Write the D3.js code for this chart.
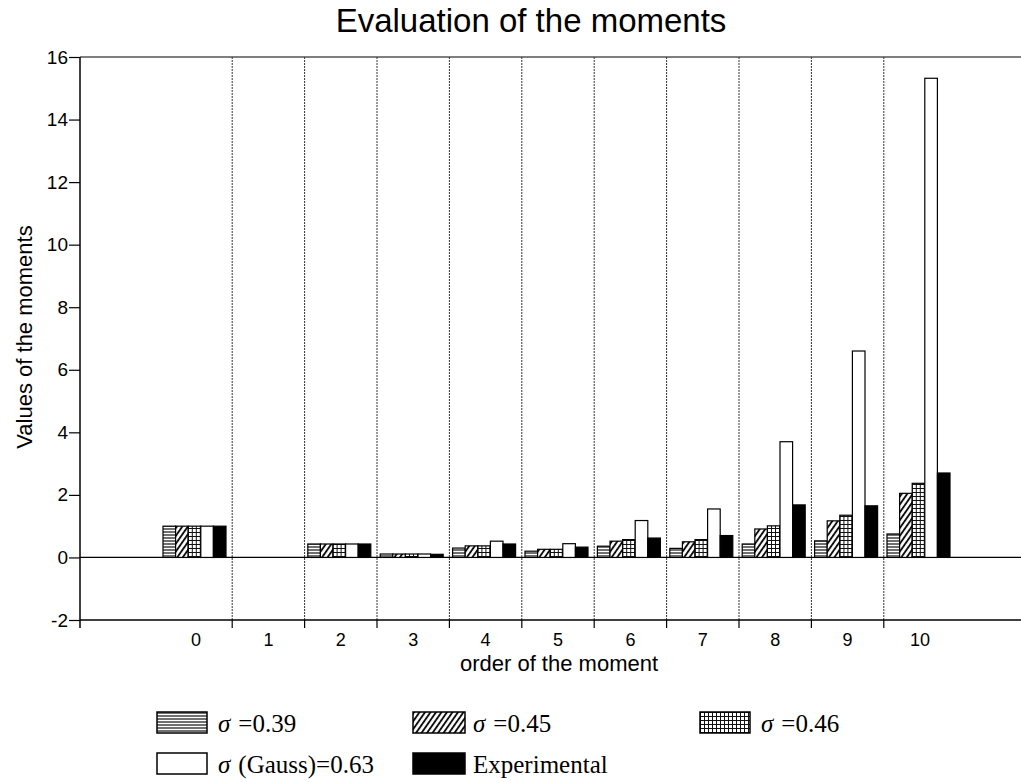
<!DOCTYPE html>
<html>
<head>
<meta charset="utf-8">
<script src="https://cdn.jsdelivr.net/npm/d3@7"></script>
<style>
  body { margin: 0; background: #fff; }
  svg text { fill: #000; }
  .sans { font-family: "Liberation Sans", Arial, sans-serif; }
  .serif { font-family: "Liberation Serif", "Times New Roman", serif; }
</style>
</head>
<body>
<svg id="chart" width="1021" height="782"></svg>
<script>
// order of the moment
const categories = ['0', '1', '2', '3', '4', '5', '6', '7', '8', '9', '10'];
const yTicks = [-2, 0, 2, 4, 6, 8, 10, 12, 14, 16];

// values of the moments, one array per series
const sigma039 = [1.0, 0, 0.43, 0.11, 0.30, 0.20, 0.36, 0.29, 0.43, 0.53, 0.75];
const sigma045 = [1.0, 0, 0.43, 0.11, 0.37, 0.26, 0.52, 0.50, 0.91, 1.17, 2.05];
const sigma046 = [1.0, 0, 0.43, 0.11, 0.37, 0.26, 0.57, 0.57, 1.01, 1.35, 2.37];
const gauss063 = [1.0, 0, 0.43, 0.11, 0.52, 0.44, 1.18, 1.55, 3.70, 6.60, 15.32];
const experimental = [1.0, 0, 0.43, 0.10, 0.43, 0.33, 0.62, 0.70, 1.68, 1.65, 2.70];

const seriesNames = ['s039', 's045', 's046', 'gauss', 'exp'];
const seriesLabels = ['σ =0.39', 'σ =0.45', 'σ =0.46', 'σ (Gauss)=0.63', 'Experimental'];
const seriesValues = [sigma039, sigma045, sigma046, gauss063, experimental];

const svg = d3.select('#chart');

// fill patterns
const defs = svg.append('defs');
const ph = defs.append('pattern').attr('id', 'p-s039')
  .attr('patternUnits', 'userSpaceOnUse').attr('width', 4).attr('height', 3);
ph.append('rect').attr('width', 4).attr('height', 3).attr('fill', '#fff');
ph.append('line').attr('x1', 0).attr('x2', 4).attr('y1', 1).attr('y2', 1)
  .attr('stroke', '#111').attr('stroke-width', 1.2);

const pd = defs.append('pattern').attr('id', 'p-s045')
  .attr('patternUnits', 'userSpaceOnUse').attr('width', 4.5).attr('height', 4.5)
  .attr('patternTransform', 'rotate(35)');
pd.append('rect').attr('width', 4.5).attr('height', 4.5).attr('fill', '#fff');
pd.append('line').attr('x1', 1).attr('x2', 1).attr('y1', 0).attr('y2', 4.5)
  .attr('stroke', '#000').attr('stroke-width', 1.8);

const pg = defs.append('pattern').attr('id', 'p-s046')
  .attr('patternUnits', 'userSpaceOnUse').attr('width', 4).attr('height', 4);
pg.append('rect').attr('width', 4).attr('height', 4).attr('fill', '#fff');
pg.append('path').attr('d', 'M0,0.5H4M0.5,0V4')
  .attr('stroke', '#111').attr('stroke-width', 1);

const fills = {
  s039: 'url(#p-s039)',
  s045: 'url(#p-s045)',
  s046: 'url(#p-s046)',
  gauss: '#fff',
  exp: '#000'
};

const plotLeft = 80, plotRight = 1021, plotTop = 57, plotBottom = 620;

const yScale = d3.scaleLinear()
  .domain([-2, 16])
  .range([plotBottom, plotTop]);

const xScale = d3.scaleBand()
  .domain(categories)
  .range([159.8, 956.2]);

const inner = d3.scaleBand()
  .domain(seriesNames)
  .range([3.2, 66.2]);

// frame
svg.append('line')
  .attr('x1', plotLeft).attr('x2', plotRight).attr('y1', plotTop).attr('y2', plotTop)
  .attr('stroke', '#000').attr('stroke-width', 1.2);
svg.append('line')
  .attr('x1', plotLeft).attr('x2', plotRight).attr('y1', yScale(0)).attr('y2', yScale(0))
  .attr('stroke', '#000').attr('stroke-width', 1.2);

// separators between categories
const seps = categories.slice(0, -1);
svg.selectAll('.sep')
  .data(seps)
  .enter()
  .append('line')
  .attr('class', 'sep')
  .attr('x1', (d) => xScale(d) + xScale.bandwidth())
  .attr('x2', (d) => xScale(d) + xScale.bandwidth())
  .attr('y1', plotTop)
  .attr('y2', plotBottom)
  .attr('stroke', '#333')
  .attr('stroke-width', 1)
  .attr('stroke-dasharray', '2,1');
svg.selectAll('.septick')
  .data(seps)
  .enter()
  .append('line')
  .attr('class', 'septick')
  .attr('x1', (d) => xScale(d) + xScale.bandwidth())
  .attr('x2', (d) => xScale(d) + xScale.bandwidth())
  .attr('y1', plotBottom)
  .attr('y2', plotBottom + 8)
  .attr('stroke', '#000')
  .attr('stroke-width', 1.2);

// bars
const groups = svg.selectAll('.cat')
  .data(categories)
  .enter()
  .append('g')
  .attr('class', 'cat')
  .attr('transform', (d) => `translate(${xScale(d)},0)`);

groups.selectAll('rect')
  .data((c, i) => seriesNames.map((s, k) => ({ s: s, v: seriesValues[k][i] })).filter((d) => d.v > 0))
  .enter()
  .append('rect')
  .attr('x', (d) => inner(d.s))
  .attr('y', (d) => yScale(d.v))
  .attr('width', inner.bandwidth())
  .attr('height', (d) => yScale(0) - yScale(d.v))
  .attr('fill', (d) => fills[d.s])
  .attr('stroke', '#000')
  .attr('stroke-width', 1.2);

// y axis
const yAxis = svg.append('g')
  .attr('transform', `translate(${plotLeft},0)`)
  .call(d3.axisLeft(yScale).tickValues(yTicks).tickFormat((d) => String(d))
    .tickSize(11).tickPadding(1).tickSizeOuter(0));
yAxis.select('.domain').remove();
yAxis.append('line')
  .attr('x1', 0).attr('x2', 0).attr('y1', plotTop).attr('y2', plotBottom + 8)
  .attr('stroke', '#000').attr('stroke-width', 1.5);
yAxis.selectAll('.tick line').attr('stroke-width', 1.2);
yAxis.selectAll('text').attr('font-size', 19).attr('font-family', '"Liberation Sans", Arial, sans-serif');

// x axis
const xAxis = svg.append('g')
  .attr('transform', `translate(0,${plotBottom})`)
  .call(d3.axisBottom(xScale).tickSize(0).tickPadding(13));
xAxis.select('.domain').remove();
xAxis.append('line')
  .attr('x1', plotLeft).attr('x2', plotRight).attr('y1', 0).attr('y2', 0)
  .attr('stroke', '#000').attr('stroke-width', 1.5);
xAxis.selectAll('text').attr('font-size', 18).attr('font-family', '"Liberation Sans", Arial, sans-serif');

// titles
svg.append('text')
  .attr('class', 'sans')
  .attr('x', 531)
  .attr('y', 32)
  .attr('text-anchor', 'middle')
  .attr('font-size', 33)
  .text('Evaluation of the moments');

svg.append('text')
  .attr('class', 'sans')
  .attr('x', 559)
  .attr('y', 671)
  .attr('text-anchor', 'middle')
  .attr('font-size', 22)
  .text('order of the moment');

svg.append('text')
  .attr('class', 'sans')
  .attr('transform', 'translate(32,337) rotate(-90)')
  .attr('text-anchor', 'middle')
  .attr('font-size', 22)
  .text('Values of the moments');

// legend
const legendPos = [[157, 712], [413, 712], [700, 712], [157, 753], [413, 753]];
const legend = svg.selectAll('.legend')
  .data(seriesNames)
  .enter()
  .append('g')
  .attr('class', 'legend')
  .attr('transform', (d, i) => `translate(${legendPos[i][0]},${legendPos[i][1]})`);
legend.append('rect')
  .attr('width', (d, i) => (i === 1 || i === 4) ? 52 : 50)
  .attr('height', 21)
  .attr('fill', (d) => fills[d])
  .attr('stroke', '#000')
  .attr('stroke-width', 1.5);
const legendText = legend.append('text')
  .attr('class', 'serif')
  .attr('x', (d, i) => (i === 1 || i === 4) ? 60 : 61)
  .attr('y', 20)
  .attr('font-size', 25);
legendText.each(function (d, i) {
  const label = seriesLabels[i];
  const t = d3.select(this);
  if (label.startsWith('σ')) {
    t.append('tspan').attr('font-style', 'italic').text('σ');
    t.append('tspan').attr('dx', 8).text(label.slice(2));
  } else {
    t.text(label);
  }
});
</script>
</body>
</html>
